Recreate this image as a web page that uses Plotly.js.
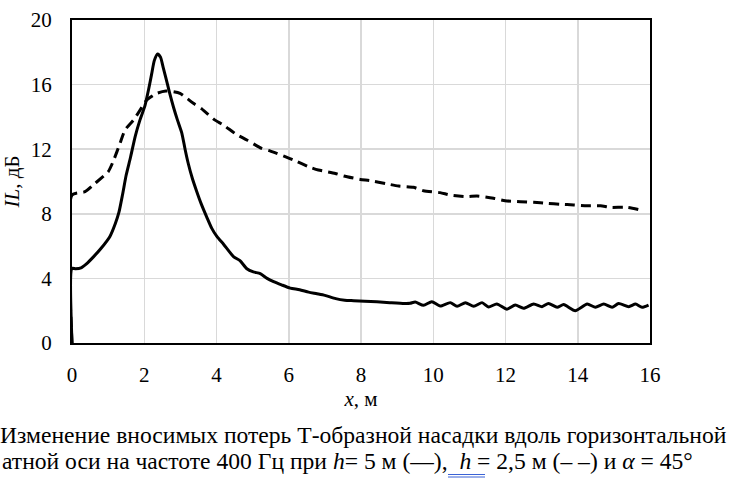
<!DOCTYPE html>
<html>
<head>
<meta charset="utf-8">
<script src="https://cdn.plot.ly/plotly-3.0.1.min.js"></script>
</head>
<body style="margin:0">
<div id="chart"></div>
<script>
// h = 5 m (solid)
var xSolid = [0, 0, 0.1, 0.25, 0.4, 0.6, 0.8, 1.05, 1.2, 1.3, 1.4, 1.5, 1.62, 1.75, 1.88, 2.02,
    2.12, 2.2, 2.28, 2.37, 2.45, 2.52, 2.6, 2.7, 2.81, 2.92, 3.04, 3.13, 3.22, 3.33, 3.45,
    3.58, 3.73, 3.87, 4.01, 4.2, 4.47, 4.65, 4.84, 5.02, 5.21, 5.4, 5.58, 5.8, 6.04, 6.3,
    6.55, 6.78, 7.0, 7.3, 7.55, 7.8, 8.1, 8.44, 8.8, 9.2, 9.36, 9.5, 9.73, 9.96, 10.19,
    10.47, 10.66, 10.89, 11.12, 11.35, 11.53, 11.76, 12.04, 12.27, 12.5, 12.78, 13.01,
    13.19, 13.43, 13.61, 13.93, 14.26, 14.49, 14.72, 14.95, 15.13, 15.41, 15.6, 15.78, 15.96];
var ySolid = [0, 4.62, 4.6, 4.65, 4.9, 5.35, 5.85, 6.6, 7.4, 8.1, 9.2, 10.4, 11.5, 12.8, 13.8, 14.7,
    15.7, 16.6, 17.5, 17.9, 17.7, 17.1, 16.4, 15.5, 14.6, 13.8, 13.0, 12.0, 11.1, 10.2, 9.4,
    8.6, 7.8, 7.1, 6.6, 6.1, 5.35, 5.1, 4.6, 4.4, 4.3, 4.0, 3.8, 3.6, 3.4, 3.3,
    3.15, 3.05, 2.95, 2.75, 2.65, 2.62, 2.58, 2.55, 2.5, 2.45, 2.46, 2.54, 2.33, 2.56, 2.29,
    2.5, 2.27, 2.5, 2.27, 2.5, 2.23, 2.42, 2.09, 2.35, 2.15, 2.42, 2.25,
    2.45, 2.21, 2.38, 2.0, 2.41, 2.21, 2.41, 2.21, 2.44, 2.25, 2.41, 2.21, 2.35];

// h = 2.5 m (dashed)
var xDash = [0, 0, 0.36, 0.64, 1.0, 1.15, 1.33, 1.47, 1.7, 1.88, 2.07, 2.35, 2.6, 2.81, 2.99,
    3.36, 3.59, 3.96, 4.19, 4.56, 4.84, 5.25, 5.48, 5.9, 6.13, 6.59, 6.82, 7.29, 7.52, 7.98,
    8.25, 8.72, 9.04, 9.45, 9.73, 10.19, 10.47, 10.93, 11.21, 11.67, 11.99, 12.41, 12.78,
    13.15, 13.52, 13.89, 14.26, 14.63, 14.9, 15.37, 15.73];
var yDash = [0, 9.16, 9.37, 9.89, 10.6, 11.3, 12.37, 13.2, 13.8, 14.4, 15.05, 15.46, 15.6, 15.56, 15.46,
    14.84, 14.5, 13.8, 13.5, 12.9, 12.57, 12.05, 11.9, 11.54, 11.33, 10.88, 10.71, 10.5, 10.34, 10.13,
    10.05, 9.85, 9.72, 9.64, 9.43, 9.31, 9.16, 9.06, 9.1, 8.96, 8.81, 8.75, 8.71,
    8.65, 8.59, 8.55, 8.5, 8.5, 8.4, 8.4, 8.24];

var captionLine1 = 'Изменение вносимых потерь Т-образной насадки вдоль горизонтальной';
var captionLine2 = 'атной оси на частоте 400 Гц при <i>h</i>= 5 м (—),\u00a0\u00a0<i>h</i> = 2,5 м (– –) и <i>α</i> = 45°';

// plot area in pixels
var L = 72, R = 650, T = 20, B = 343;
function px(p) { return (p - L) / (R - L); }
function py(p) { return (B - p) / (B - T); }

var tickFont = { family: 'Liberation Serif', size: 21, color: '#000' };
var capFont = { family: 'Liberation Serif', size: 26, color: '#000' };

var traces = [
    {
        x: xSolid, y: ySolid, type: 'scatter', mode: 'lines',
        line: { color: '#000', width: 3, shape: 'spline', smoothing: 0.6 },
        hoverinfo: 'skip'
    },
    {
        x: xDash, y: yDash, type: 'scatter', mode: 'lines',
        line: { color: '#000', width: 3, dash: '10px,6px', shape: 'spline', smoothing: 0.6 },
        hoverinfo: 'skip'
    }
];

var layout = {
    width: 730,
    height: 486,
    margin: { l: L, r: 730 - R, t: T, b: 486 - B },
    paper_bgcolor: '#fff',
    plot_bgcolor: '#fff',
    showlegend: false,
    xaxis: {
        range: [0, 16],
        dtick: 2,
        gridcolor: '#d9d9d9',
        gridwidth: 1.5,
        zeroline: false,
        showline: true,
        linecolor: '#000',
        linewidth: 2,
        mirror: true,
        ticks: '',
        ticklabelstandoff: 12,
        tickfont: tickFont,
        title: { text: '<i>x</i>, м', font: tickFont, standoff: 4 }
    },
    yaxis: {
        range: [0, 20],
        dtick: 4,
        gridcolor: '#d9d9d9',
        gridwidth: 1.5,
        zeroline: false,
        showline: true,
        linecolor: '#000',
        linewidth: 2,
        mirror: true,
        ticks: '',
        ticklabelstandoff: 14,
        tickfont: tickFont,
        title: { text: '<i>IL</i>, дБ', font: tickFont, standoff: 6 }
    },
    annotations: [
        {
            text: captionLine1, xref: 'paper', yref: 'paper',
            x: px(-2), y: py(435), xanchor: 'left', yanchor: 'middle',
            showarrow: false, font: capFont
        },
        {
            text: captionLine2, xref: 'paper', yref: 'paper',
            x: px(0), y: py(461), xanchor: 'left', yanchor: 'middle',
            showarrow: false, font: capFont
        }
    ],
    shapes: [
        { type: 'line', xref: 'paper', yref: 'paper', x0: px(448), x1: px(485), y0: py(474.5), y1: py(474.5),
          line: { color: '#3b63d6', width: 1 } },
        { type: 'line', xref: 'paper', yref: 'paper', x0: px(448), x1: px(485), y0: py(477), y1: py(477),
          line: { color: '#3b63d6', width: 1 } }
    ]
};

Plotly.newPlot('chart', traces, layout, { staticPlot: true }).then(function (gd) {
    // the first caption line runs almost exactly across the page in the reference
    var t = gd.querySelector('.annotation-text');
    if (!t) return;
    var w = t.getBBox().width;
    if (!w) return;
    var s = Math.round(capFont.size * 726 / w * 10) / 10;
    if (Math.abs(s - capFont.size) > 0.3) {
        Plotly.relayout(gd, { 'annotations[0].font.size': s, 'annotations[1].font.size': s });
    }
});
</script>
</body>
</html>
